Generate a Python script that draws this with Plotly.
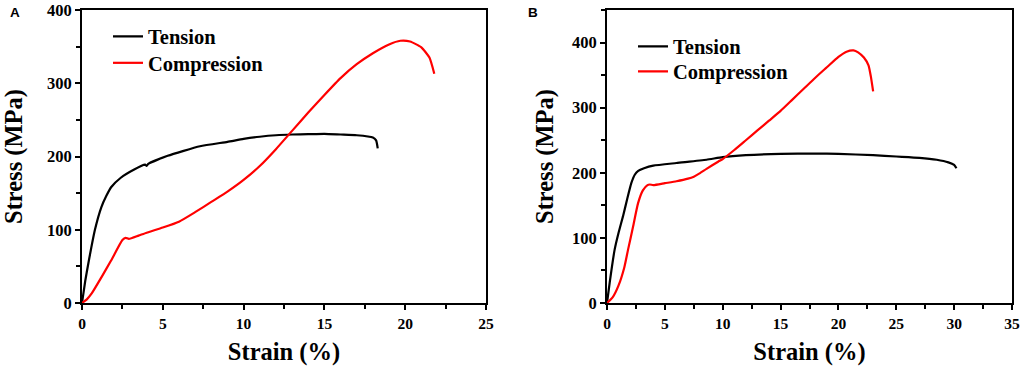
import plotly.graph_objects as go

# Panel A data
a_ten_x = [0, 0.2, 0.4, 0.8, 1.2, 1.5, 1.8, 2.4, 3.2, 3.9, 4.0, 4.1, 5.3, 7.3, 9, 10, 11, 12, 13, 14, 15, 16, 17, 18, 18.2, 18.3]
a_ten_y = [0, 30, 55, 100, 131, 146, 158, 171, 182, 189, 187, 190, 201, 214, 220, 224, 227, 229, 230, 230.5, 231, 230, 229, 226, 222, 211]
a_com_x = [0, 0.3, 0.6, 1.2, 1.8, 2.5, 2.7, 2.9, 3.5, 4, 5, 6, 7, 8, 9, 10, 11, 12, 13, 14, 15, 16, 17, 18, 19, 19.7, 20.3, 21, 21.5, 21.8]
a_com_y = [0, 5, 13, 35, 58, 86, 89, 87.5, 92, 96, 103, 111, 124, 138, 152, 168, 187, 210, 235, 260, 284, 307, 326, 341, 353, 358, 357, 349, 335, 313]

# Panel B data
b_ten_x = [0, 0.23, 0.66, 1, 1.38, 1.75, 2.1, 2.4, 2.7, 3.2, 4, 6, 8.6, 10, 12, 15, 18, 20, 23, 25, 27, 28.5, 29.5, 30, 30.2]
b_ten_y = [0, 31, 82, 108, 133, 160, 184, 197, 203, 207, 211, 215, 220, 224, 227, 229, 229.5, 229, 227, 225, 223, 220, 216, 212, 207]
b_com_x = [0, 0.5, 1, 1.5, 1.82, 2.25, 2.68, 3.1, 3.5, 3.7, 4, 5, 6, 7, 7.5, 8, 8.6, 9.6, 10, 11, 12, 13, 14, 15, 16, 17, 18, 19, 20, 20.7, 21.3, 21.7, 22.2, 22.6, 22.8, 23]
b_com_y = [0, 9, 27, 55, 82, 117, 153, 173, 181, 182, 181, 184, 187, 191, 194, 199, 206, 217, 221, 235, 250, 265, 280, 295, 312, 329, 346, 362, 378, 386, 388, 385, 377, 365, 348, 325]

series_names = ["Tension", "Compression"]
colors = ["#000000", "#ff0000"]

W, H = 1021, 367


def px(x):
    return x / W


def py(y):
    return (H - y) / H


serif = "Times New Roman, Liberation Serif, serif"
legfont = dict(family=serif, size=20.5, color="black", weight="bold")

fig = go.Figure()
traces = [
    (a_ten_x, a_ten_y, 0, "x", "y", "legend"),
    (a_com_x, a_com_y, 1, "x", "y", "legend2"),
    (b_ten_x, b_ten_y, 0, "x2", "y2", "legend3"),
    (b_com_x, b_com_y, 1, "x2", "y2", "legend4"),
]
for xs, ys, k, xa, ya, lg in traces:
    fig.add_trace(go.Scatter(x=xs, y=ys, mode="lines", name=series_names[k], showlegend=True,
                             line=dict(color=colors[k], width=2.2, shape="spline", smoothing=0.5),
                             xaxis=xa, yaxis=ya, legend=lg))

titlefont = dict(family=serif, size=24.5, color="black", weight="bold")


def tf(size):
    return dict(family=serif, size=size, color="black", weight="bold")


common = dict(showline=True, linecolor="black", linewidth=2, mirror=True, ticks="outside",
              ticklen=5, tickwidth=1.5, tickcolor="black", showgrid=False, zeroline=False,
              automargin=False, ticklabeloverflow="allow")
minor_common = dict(ticks="outside", ticklen=4, tickwidth=1.5, tickcolor="black", showgrid=False)

ydom = [py(303), py(10)]


def leg(x, y):
    return dict(x=px(x), y=py(y), xanchor="left", yanchor="top", bgcolor="rgba(0,0,0,0)",
                font=legfont, tracegroupgap=0, visible=True)


fig.update_layout(
    width=W, height=H, margin=dict(l=0, r=0, t=0, b=0, autoexpand=False),
    plot_bgcolor="white", paper_bgcolor="white", showlegend=True,
    xaxis=dict(domain=[px(82), px(486)], range=[0, 25], dtick=5, tickfont=tf(15.5),
               minor=dict(dtick=2.5, **minor_common),
               title=dict(text="Strain (%)", font=titlefont, standoff=12), **common),
    yaxis=dict(domain=ydom, range=[0, 400], dtick=100, tickfont=tf(16.5),
               minor=dict(dtick=50, **minor_common),
               title=dict(text="Stress (MPa)", font=titlefont, standoff=24), **common),
    xaxis2=dict(domain=[px(607), px(1012)], range=[0, 35], dtick=5, anchor="y2", tickfont=tf(15.5),
                minor=dict(dtick=2.5, **minor_common),
                title=dict(text="Strain (%)", font=titlefont, standoff=12), **common),
    yaxis2=dict(domain=ydom, range=[0, 450], dtick=100, anchor="x2", tickfont=tf(16.5),
                minor=dict(dtick=50, **minor_common),
                title=dict(text="Stress (MPa)", font=titlefont, standoff=11), **common),
    legend=leg(108, 16.5),
    legend2=leg(108, 43),
    legend3=leg(633, 26.5),
    legend4=leg(633, 51.5),
    annotations=[
        dict(text="A", x=px(15), y=py(12.5), xref="paper", yref="paper", showarrow=False,
             xanchor="center", yanchor="middle",
             font=dict(family="Liberation Sans, Arial", size=13.5, color="black", weight="bold")),
        dict(text="B", x=px(533), y=py(12.5), xref="paper", yref="paper", showarrow=False,
             xanchor="center", yanchor="middle",
             font=dict(family="Liberation Sans, Arial", size=13.5, color="black", weight="bold")),
    ],
)

# remove the default 8px page margin so the figure sits at the window's top-left corner
fig.write_html("out.html", config={"displayModeBar": False},
               post_script="document.body.style.margin='0';")
